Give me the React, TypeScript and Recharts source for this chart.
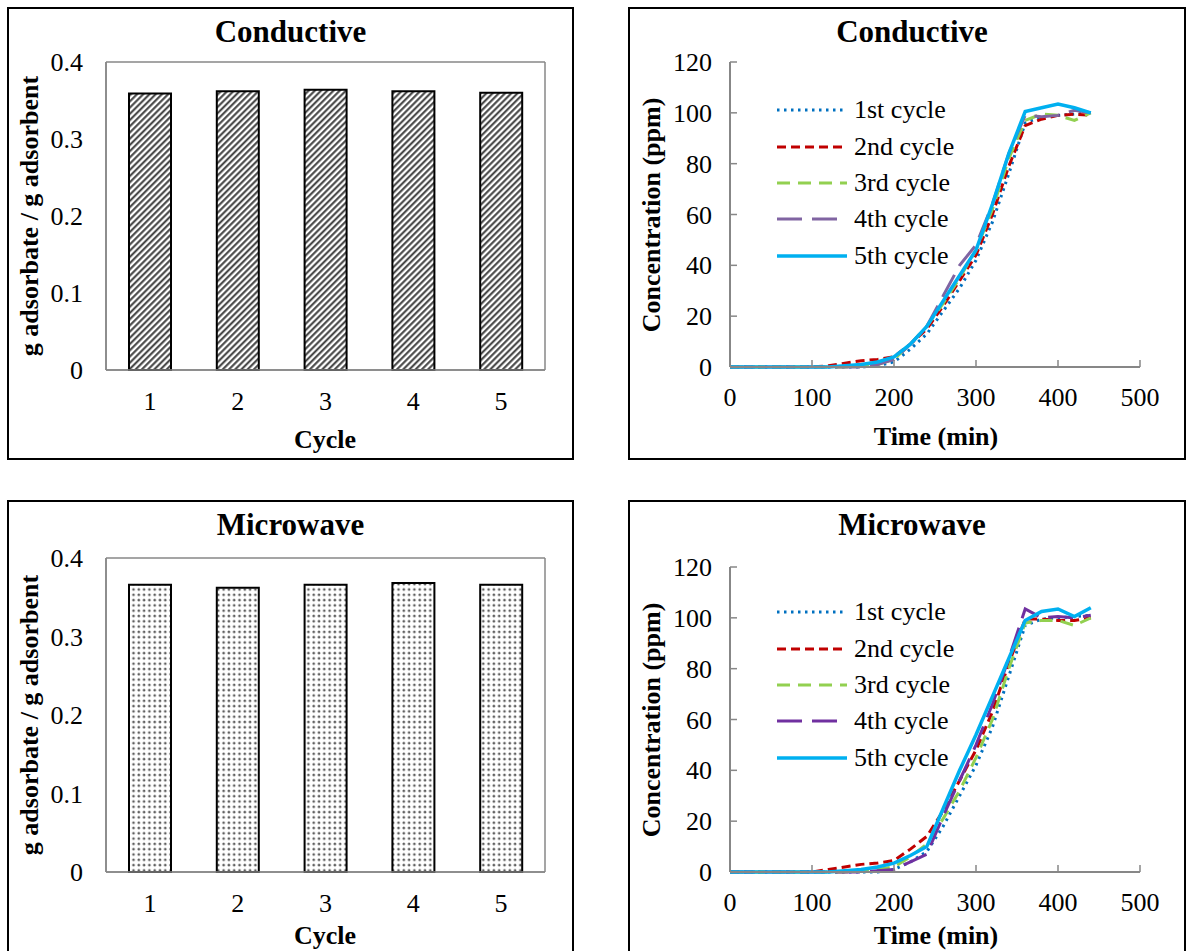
import React from "react";
import { BarChart, Bar, LineChart, Line, XAxis, YAxis, CartesianGrid, Legend } from "recharts";

const FONT = "'Liberation Serif', 'Times New Roman', Times, serif";
const AXIS = "#878787";

// bar charts
const cycles = ["1", "2", "3", "4", "5"];
const conductiveUptake = [0.359, 0.362, 0.364, 0.362, 0.36];
const microwaveUptake = [0.366, 0.362, 0.366, 0.368, 0.366];
const uptakeTicks = [0, 0.1, 0.2, 0.3, 0.4];

// breakthrough curves
const times = [0, 20, 40, 60, 80, 100, 120, 140, 160, 180, 200, 220, 240, 260, 280, 300, 320, 340, 360, 380, 400, 420, 440];
const timeTicks = [0, 100, 200, 300, 400, 500];
const concTicks = [0, 20, 40, 60, 80, 100, 120];

const condCycle1 = [0, 0, 0, 0, 0, 0, 0, 0, 0, 0.5, 2, 7, 13, 22, 31, 42, 57, 76, 96, 98.5, 99, 99.5, 100];
const condCycle2 = [0, 0, 0, 0, 0, 0, 0.5, 1.5, 2.5, 3, 4, 9, 15, 24, 34, 44, 60, 79, 95, 97.5, 99, 99.5, 99];
const condCycle3 = [0, 0, 0, 0, 0, 0, 0, 0, 0.5, 1, 3, 9, 16, 25, 35, 46, 62, 82, 97, 99.5, 99, 97, 100];
const condCycle4 = [0, 0, 0, 0, 0, 0, 0, 0, 0, 1, 3, 9, 16, 28, 40, 48, 64, 84, 99, 98.5, 99, 101, 100];
const condCycle5 = [0, 0, 0, 0, 0, 0, 0, 0.5, 1, 2, 4, 9, 16, 26, 36, 46, 64, 84, 100.5, 102, 103.5, 102, 100];

const microCycle1 = [0, 0, 0, 0, 0, 0, 0, 0, 0, 0, 1, 4, 8, 18, 30, 42, 57, 77, 97, 99.5, 100, 100.5, 101];
const microCycle2 = [0, 0, 0, 0, 0, 0, 1, 2, 3, 3.5, 4.5, 9, 14, 24, 36, 48, 63, 82, 99.5, 99.5, 99, 99, 100];
const microCycle3 = [0, 0, 0, 0, 0, 0, 0, 0, 0.5, 1, 2, 6, 11, 21, 32, 45, 60, 80, 98, 99, 99, 97, 100];
const microCycle4 = [0, 0, 0, 0, 0, 0, 0, 0, 0, 0.5, 1, 4, 7, 22, 36, 50, 66, 84, 103.5, 100, 100.5, 100, 101];
const microCycle5 = [0, 0, 0, 0, 0, 0, 0, 0.5, 1, 2, 3.5, 6.5, 10, 25, 40, 54, 69, 84, 99, 102.5, 103.5, 100.5, 104];

const cycleNames = ["1st cycle", "2nd cycle", "3rd cycle", "4th cycle", "5th cycle"];
const cycleDashes = ["2.5 4.5", "9 5", "13 8", "25 10", undefined];
const cycleWidths = [3, 3, 3, 3, 3.5];

type SeriesDef = { key: string; name: string; color: string; dash?: string; width: number };

function makeSeries(colors: string[]): SeriesDef[] {
  return cycleNames.map((name, i) => ({
    key: "c" + (i + 1),
    name,
    color: colors[i],
    dash: cycleDashes[i],
    width: cycleWidths[i],
  }));
}

const condSeries = makeSeries(["#0070C0", "#C00000", "#92D050", "#8064A2", "#00B0F0"]);
const microSeries = makeSeries(["#0070C0", "#C00000", "#92D050", "#7030A0", "#00B0F0"]);

function buildRows(series: number[][]) {
  return times.map((t, i) => {
    const row: Record<string, number> = { t };
    series.forEach((s, j) => (row["c" + (j + 1)] = s[i]));
    return row;
  });
}

const condRows = buildRows([condCycle1, condCycle2, condCycle3, condCycle4, condCycle5]);
const microRows = buildRows([microCycle1, microCycle2, microCycle3, microCycle4, microCycle5]);

const uptakeRows = (values: number[]) => cycles.map((c, i) => ({ cycle: c, uptake: values[i] }));

const Y_GAP = 18;
const X_GAP = 21;
const TICK_FONT = 26;

function InTickY(props: any) {
  const { x, y, payload } = props;
  const ax = x + Y_GAP;
  return (
    <g>
      <line x1={ax} x2={ax + 7} y1={y} y2={y} stroke={AXIS} strokeWidth={1.5} />
      <text x={x} y={y} dy="0.35em" textAnchor="end" style={{ fontFamily: FONT, fontSize: TICK_FONT }} fill="#000">
        {payload.value}
      </text>
    </g>
  );
}

function InTickX(props: any) {
  const { x, y, payload } = props;
  const ay = y - X_GAP;
  return (
    <g>
      <line x1={x} x2={x} y1={ay} y2={ay - 7} stroke={AXIS} strokeWidth={1.5} />
      <text x={x} y={y} dy="0.71em" textAnchor="middle" style={{ fontFamily: FONT, fontSize: TICK_FONT }} fill="#000">
        {payload.value}
      </text>
    </g>
  );
}

function CycleLegend({ series }: { series: SeriesDef[] }) {
  return (
    <div style={{ fontFamily: FONT, fontSize: 26, color: "#000" }}>
      {series.map((s) => (
        <div key={s.key} style={{ display: "flex", alignItems: "center", height: 36.4 }}>
          <svg width={72} height={10}>
            <line x1={1} y1={5} x2={71} y2={5} stroke={s.color} strokeWidth={s.width} strokeDasharray={s.dash} />
          </svg>
          <span style={{ marginLeft: 6, lineHeight: 1, whiteSpace: "nowrap", fontFamily: FONT }}>{s.name}</span>
        </div>
      ))}
    </div>
  );
}

const titleStyle: React.CSSProperties = {
  position: "absolute",
  left: 0,
  width: "100%",
  textAlign: "center",
  fontFamily: FONT,
  fontWeight: "bold",
  fontSize: 31,
  lineHeight: "32px",
};

function AxisTitle({ text, cx, cy, rotate }: { text: string; cx: number; cy: number; rotate?: boolean }) {
  return (
    <div
      style={{
        position: "absolute",
        left: cx,
        top: cy,
        transform: `translate(-50%, -50%)${rotate ? " rotate(-90deg)" : ""}`,
        fontFamily: FONT,
        fontWeight: "bold",
        fontSize: 26,
        whiteSpace: "nowrap",
        lineHeight: 1,
      }}
    >
      {text}
    </div>
  );
}

function Panel({ left, top, width, height, children }: any) {
  return (
    <div
      style={{
        position: "absolute",
        left,
        top,
        width,
        height,
        border: "2px solid #000",
        boxSizing: "border-box",
        background: "#fff",
        fontFamily: FONT,
      }}
    >
      {children}
    </div>
  );
}

const tickStyle = { fontFamily: FONT, fontSize: TICK_FONT, fill: "#000" };

function UptakeChart({ title, values, fill, plotTop, height, xTitleY }: any) {
  const plotBottom = plotTop + 308 + (height > 450 ? 6 : 0);
  return (
    <>
      <div style={{ ...titleStyle, top: 7 }}>{title}</div>
      <BarChart
        width={563}
        height={height}
        data={uptakeRows(values)}
        margin={{ top: plotTop, right: 27, left: 37, bottom: height - plotBottom - 30 }}
        barSize={42}
        style={{ position: "absolute", left: 0, top: 0, fontFamily: FONT }}
      >
        <defs>
          <pattern id="hatch" width={4.4} height={4.4} patternUnits="userSpaceOnUse" patternTransform="rotate(45)">
            <rect width={4.4} height={4.4} fill="#fff" />
            <line x1={1.2} y1={0} x2={1.2} y2={4.4} stroke="#3c3c3c" strokeWidth={2} />
          </pattern>
          <pattern id="dots" width={5.3} height={5.3} patternUnits="userSpaceOnUse">
            <rect width={5.3} height={5.3} fill="#fff" />
            <circle cx={2.6} cy={2.6} r={1.35} fill="#5f5f5f" />
          </pattern>
        </defs>
        <CartesianGrid
          stroke={AXIS}
          strokeWidth={1.5}
          horizontalCoordinatesGenerator={(a: any) => (a && a.offset ? [a.offset.top, a.offset.top + a.offset.height] : [])}
          verticalCoordinatesGenerator={(a: any) => (a && a.offset ? [a.offset.left, a.offset.left + a.offset.width] : [])}
        />
        <XAxis
          dataKey="cycle"
          height={30}
          tickLine={false}
          tickSize={0}
          tickMargin={22}
          axisLine={{ stroke: AXIS, strokeWidth: 1.5 }}
          tick={tickStyle}
        />
        <YAxis
          width={60}
          domain={[0, 0.4]}
          ticks={uptakeTicks}
          tickLine={false}
          tickSize={0}
          tickMargin={23}
          axisLine={{ stroke: AXIS, strokeWidth: 1.5 }}
          tick={tickStyle}
        />
        <Bar dataKey="uptake" fill={fill} stroke="#000" strokeWidth={2} isAnimationActive={false} />
      </BarChart>
      <AxisTitle text="g adsorbate / g adsorbent" cx={21} cy={(plotTop + plotBottom) / 2} rotate />
      <AxisTitle text="Cycle" cx={316} cy={xTitleY} />
    </>
  );
}

function ConcChart({ title, rows, series, plotTop, height, legendTop, xTitleY }: any) {
  const plotBottom = plotTop + 305;
  return (
    <>
      <div style={{ ...titleStyle, top: 7, left: 5 }}>{title}</div>
      <LineChart
        width={554}
        height={height}
        data={rows}
        margin={{ top: plotTop, right: 44, left: 40, bottom: height - plotBottom - 30 }}
        style={{ position: "absolute", left: 0, top: 0, fontFamily: FONT }}
      >
        <XAxis
          dataKey="t"
          type="number"
          domain={[0, 500]}
          ticks={timeTicks}
          height={30}
          tickLine={false}
          tickSize={0}
          tickMargin={X_GAP}
          axisLine={{ stroke: AXIS, strokeWidth: 2 }}
          tick={<InTickX />}
        />
        <YAxis
          width={60}
          domain={[0, 120]}
          ticks={concTicks}
          tickLine={false}
          tickSize={0}
          tickMargin={Y_GAP}
          axisLine={{ stroke: AXIS, strokeWidth: 2 }}
          tick={<InTickY />}
        />
        <Legend
          layout="vertical"
          align="center"
          verticalAlign="middle"
          wrapperStyle={{ left: 146, top: legendTop, width: "auto" }}
          content={() => <CycleLegend series={series} />}
        />
        {series.map((s: SeriesDef) => (
          <Line
            key={s.key}
            type="linear"
            dataKey={s.key}
            name={s.name}
            stroke={s.color}
            strokeWidth={s.width}
            strokeDasharray={s.dash}
            dot={false}
            isAnimationActive={false}
          />
        ))}
      </LineChart>
      <AxisTitle text="Concentration (ppm)" cx={22} cy={(plotTop + plotBottom) / 2} rotate />
      <AxisTitle text="Time (min)" cx={306} cy={xTitleY} />
    </>
  );
}

export default function App() {
  return (
    <div
      style={{
        position: "absolute",
        left: 0,
        top: 0,
        width: 1189,
        height: 951,
        overflow: "hidden",
        background: "#fff",
        fontFamily: FONT,
      }}
    >
      <Panel left={7} top={7} width={567} height={453}>
        <UptakeChart title="Conductive" values={conductiveUptake} fill="url(#hatch)" plotTop={53} height={449} xTitleY={431} />
      </Panel>
      <Panel left={628} top={7} width={558} height={453}>
        <ConcChart title="Conductive" rows={condRows} series={condSeries} plotTop={53} height={449} legendTop={83} xTitleY={428} />
      </Panel>
      <Panel left={7} top={500} width={567} height={462}>
        <UptakeChart title="Microwave" values={microwaveUptake} fill="url(#dots)" plotTop={56} height={458} xTitleY={434} />
      </Panel>
      <Panel left={628} top={500} width={558} height={462}>
        <ConcChart title="Microwave" rows={microRows} series={microSeries} plotTop={65} height={458} legendTop={92} xTitleY={434} />
      </Panel>
    </div>
  );
}
